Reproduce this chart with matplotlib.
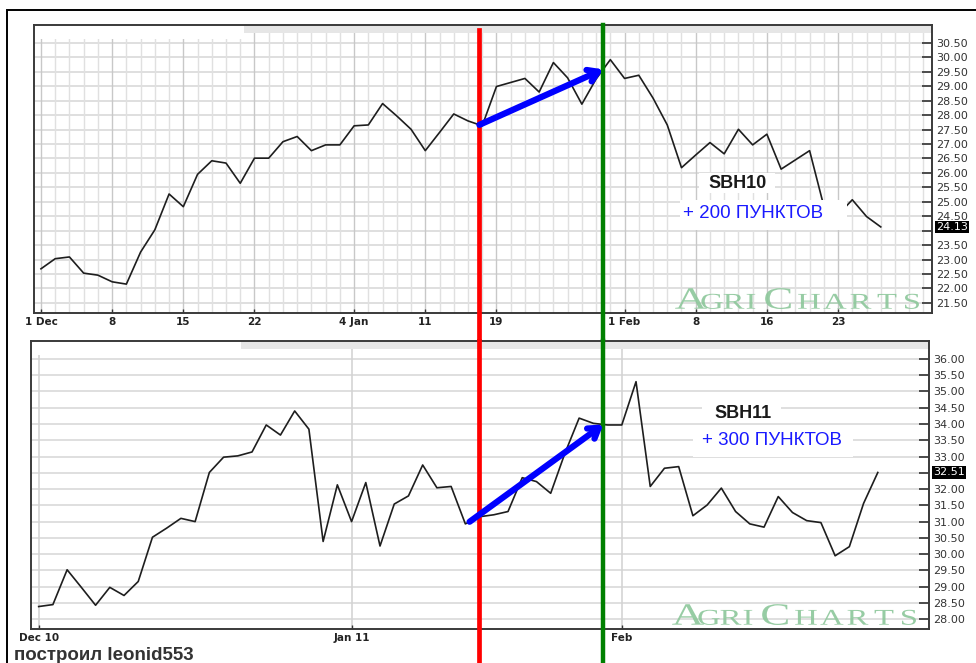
import numpy as np
import matplotlib
matplotlib.use("Agg")
import matplotlib.pyplot as plt
import matplotlib.transforms as mtransforms
from matplotlib.lines import Line2D
from matplotlib.patches import Rectangle, PathPatch
from matplotlib.textpath import TextPath
from matplotlib.font_manager import FontProperties
from matplotlib.ticker import FuncFormatter

# SBH10 daily closes, trading days from 1 Dec 2009
sbh10 = [22.68, 23.03, 23.09, 22.53, 22.46, 22.23, 22.15, 23.26, 24.03, 25.27,
         24.83, 25.95, 26.42, 26.34, 25.64, 26.51, 26.51, 27.08, 27.26, 26.77,
         26.97, 26.97, 27.63, 27.66, 28.40, 27.97, 27.51, 26.77, 27.40, 28.04,
         27.80, 27.63, 28.99, 29.13, 29.27, 28.80, 29.82, 29.29, 28.38, 29.25,
         29.92, 29.27, 29.38, 28.59, 27.66, 26.18, 26.62, 27.05, 26.66, 27.51,
         26.97, 27.34, 26.13, 26.45, 26.77, 24.85, 24.55, 25.07, 24.49, 24.13]
sbh10_ticks = [0, 5, 10, 15, 22, 27, 32, 41, 46, 51, 56]
sbh10_ticklabels = ["1 Dec", "8", "15", "22", "4 Jan", "11", "19", "1 Feb", "8", "16", "23"]
sbh10_yticks = np.arange(21.5, 30.51, 0.5)
sbh10_last = 24.13

# SBH11 daily closes, trading days from 1 Dec 2010
sbh11 = [28.39, 28.45, 29.52, 28.98, 28.43, 28.98, 28.73, 29.16, 30.52, 30.80,
         31.10, 31.00, 32.51, 32.98, 33.02, 33.14, 33.97, 33.66, 34.40, 33.84,
         30.39, 32.13, 31.00, 32.20, 30.25, 31.54, 31.79, 32.74, 32.04, 32.08,
         30.93, 31.15, 31.21, 31.31, 32.35, 32.23, 31.87, 33.10, 34.18, 34.02,
         33.97, 33.97, 35.30, 32.08, 32.64, 32.69, 31.18, 31.51, 32.03, 31.31,
         30.93, 30.83, 31.77, 31.28, 31.03, 30.97, 29.95, 30.23, 31.56, 32.51]
sbh11_ticks = [0, 22, 41]
sbh11_ticklabels = ["Dec 10", "Jan 11", "Feb"]
sbh11_yticks = np.arange(28.0, 36.01, 0.5)
sbh11_last = 32.51

# entry / exit days (top chart day units) and the arrows drawn between them
entry_day, exit_day = 30.8, 39.5
sbh10_arrow = (30.8, 39.5)
sbh11_arrow = (30.3, 39.7)

W, H = 976, 663
fig = plt.figure(figsize=(W / 100, H / 100), dpi=100)
fig.patch.set_facecolor("white")

ax_top = fig.add_axes([34 / W, 1 - 313 / H, 898 / W, 288 / H])
ax_bot = fig.add_axes([31 / W, 1 - 629 / H, 898 / W, 288 / H])
ax_bot.set_facecolor("none")

TICK_FONT = "DejaVu Sans"
WM_FONT = FontProperties(family="Liberation Serif")


def watermark(ax):
    """AgriCharts logo, letters stretched wide like the original"""
    letters = "AGRICHARTS"
    pos = [0.7316, 0.7550, 0.7795, 0.7984, 0.8285, 0.8630, 0.8919, 0.9209, 0.9499, 0.9777]
    big = [1, 0, 0, 0, 1, 0, 0, 0, 0, 0]
    for ch, fx, b in zip(letters, pos, big):
        tp = TextPath((0, 0), ch, size=31 if b else 22.5, prop=WM_FONT)
        ext = tp.get_extents()
        sx = 1.45
        xd, yd = ax.transAxes.transform((fx, 0.015))
        tr = mtransforms.Affine2D().translate(-(ext.x0 + ext.width / 2), 0).scale(sx, 1).translate(xd, yd)
        ax.add_patch(PathPatch(tp, transform=tr, fc="#8cc79a", ec="none", alpha=0.9,
                               zorder=3, clip_on=False))


def setup_chart(ax, values, ticks, ticklabels, yticks, ylim, xlim, last, daily_grid):
    x = np.arange(len(values))
    ax.plot(x, values, color="#1e1e1e", lw=1.2, zorder=4)
    ax.set_xlim(*xlim)
    ax.set_ylim(*ylim)

    for y in yticks:
        ax.axhline(y, color="#dcdcdc", lw=1.3, zorder=1)
    if daily_grid:
        for d in range(0, int(xlim[1]) + 1):
            ax.axvline(d, color="#c8c8c8" if d in ticks else "#e0e0e0", lw=1.0, zorder=1)
    else:
        for d in ticks:
            ax.axvline(d, color="#d4d4d4", lw=1.2, zorder=1)

    # header strip of the chart
    ax.add_patch(Rectangle((0.234, 0.972), 0.766, 0.028, transform=ax.transAxes,
                           color="#e6e6e6", lw=0, zorder=2))
    ax.add_patch(Rectangle((0, 0.95), 0.234, 0.05, transform=ax.transAxes,
                           color="white", lw=0, zorder=2))

    for s in ax.spines.values():
        s.set_color("#3a3a3a")
        s.set_linewidth(1.4)

    ax.yaxis.tick_right()
    ax.set_yticks(yticks)
    hidden = round(last * 2) / 2
    ax.yaxis.set_major_formatter(FuncFormatter(
        lambda v, p: "" if abs(v - hidden) < 1e-6 else f"{v:.2f}"))
    ax.tick_params(axis="y", direction="in", length=7, width=1.2, pad=3,
                   labelsize=8, color="#333333", labelcolor="#333333")
    ax.set_xticks(ticks)
    ax.set_xticklabels(ticklabels)
    ax.tick_params(axis="x", direction="in", length=3, width=1, pad=3,
                   labelsize=7.5, color="#333333", labelcolor="#222222")
    for lbl in ax.get_xticklabels() + ax.get_yticklabels():
        lbl.set_family(TICK_FONT)
    for lbl in ax.get_xticklabels():
        lbl.set_fontweight("bold")

    ax.annotate(f"{last:.2f}", xy=(1, last), xycoords=("axes fraction", "data"),
                xytext=(3, 0), textcoords="offset points", ha="left", va="center",
                fontsize=8, family=TICK_FONT, color="white",
                bbox=dict(boxstyle="square,pad=0.1", fc="black", ec="none"),
                annotation_clip=False)

    watermark(ax)


setup_chart(ax_top, sbh10, sbh10_ticks, sbh10_ticklabels, sbh10_yticks,
            (21.15, 31.12), (-0.49, 62.6), sbh10_last, True)
setup_chart(ax_bot, sbh11, sbh11_ticks, sbh11_ticklabels, sbh11_yticks,
            (27.70, 36.55), (-0.54, 62.6), sbh11_last, False)

# entry (red) and exit (green) markers, running through both charts
for ax, span_red, span_green in [(ax_top, (-0.1, 0.983), (-0.1, 1.0)),
                                 (ax_bot, (-0.2, 1.0), (-0.2, 1.0))]:
    blend = mtransforms.blended_transform_factory(ax_top.transData, ax.transAxes)
    ax.add_line(Line2D([entry_day, entry_day], span_red, transform=blend,
                       color="#ff0000", lw=3.4, clip_on=False, zorder=5))
    ax.add_line(Line2D([exit_day, exit_day], span_green, transform=blend,
                       color="#008000", lw=3.2, clip_on=False, zorder=5))


def draw_arrow(ax, values, span):
    x = np.arange(len(values))
    x0, x1 = span
    y0, y1 = np.interp(x0, x, values), np.interp(x1, x, values)
    ax.annotate("", xy=(x1, y1), xytext=(x0, y0),
                arrowprops=dict(arrowstyle="->,head_length=0.7,head_width=0.45",
                                color="#0000ff", lw=4.5, shrinkA=0, shrinkB=0,
                                capstyle="round"),
                zorder=6)


draw_arrow(ax_top, sbh10, sbh10_arrow)
draw_arrow(ax_bot, sbh11, sbh11_arrow)


def label_block(ax, name, name_xy, name_box, gain, gain_xy, gain_box):
    """white pasted-on boxes with the contract name and the gain in points"""
    for (x0, x1, y0, y1) in (name_box, gain_box):
        ax.add_patch(Rectangle((x0, y0), x1 - x0, y1 - y0, transform=ax.transAxes,
                               fc="white", ec="none", zorder=7))
    ax.text(*name_xy, name, transform=ax.transAxes, ha="center", va="center",
            fontsize=13, fontweight="bold", family="Liberation Sans", color="#1a1a1a",
            zorder=8)
    ax.text(*gain_xy, gain, transform=ax.transAxes, ha="center", va="center",
            fontsize=13.5, family="Liberation Sans", color="#1a1aff", zorder=8)


label_block(ax_top, "SBH10", (0.783, 0.451), (0.740, 0.825, 0.417, 0.486),
            "+ 200 ПУНКТОВ", (0.801, 0.347), (0.7194, 0.9053, 0.288, 0.392))
label_block(ax_bot, "SBH11", (0.793, 0.750), (0.747, 0.835, 0.719, 0.788),
            "+ 300 ПУНКТОВ", (0.825, 0.656), (0.737, 0.915, 0.597, 0.691))

# outer frame and signature
fig.add_artist(Rectangle((7 / W, -0.05), 1.1, 1 - 10 / H + 0.05, transform=fig.transFigure,
                         fill=False, ec="black", lw=1.4))
fig.text(14 / W, 1 - 655 / H, "построил leonid553", fontsize=13.5, fontweight="bold",
         family="Liberation Sans", color="#333333", va="center", ha="left")

fig.savefig("out.png", dpi=100)
